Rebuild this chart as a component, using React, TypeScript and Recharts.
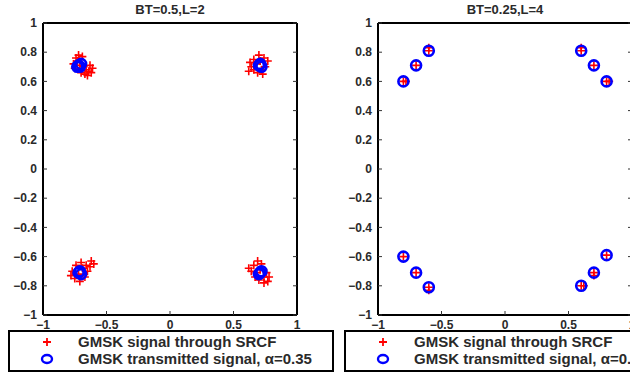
import { ScatterChart, Scatter, XAxis, YAxis } from 'recharts';

const FONT = '"Liberation Sans", Arial, sans-serif';

const xTicks = [-1, -0.5, 0, 0.5, 1];
const yTicks = [-1, -0.8, -0.6, -0.4, -0.2, 0, 0.2, 0.4, 0.6, 0.8, 1];

const titles = ['BT=0.5,L=2', 'BT=0.25,L=4'];
const legendLabels = ['GMSK signal through SRCF', 'GMSK transmitted signal, \u03b1=0.35'];

// left panel: BT=0.5, L=2
const srcfL2 = [
    // top left
    { x: -0.74, y: 0.76 }, { x: -0.72, y: 0.78 }, { x: -0.69, y: 0.77 }, { x: -0.76, y: 0.72 },
    { x: -0.75, y: 0.69 }, { x: -0.71, y: 0.71 }, { x: -0.68, y: 0.7 }, { x: -0.66, y: 0.68 },
    { x: -0.64, y: 0.67 }, { x: -0.62, y: 0.66 }, { x: -0.67, y: 0.65 }, { x: -0.65, y: 0.64 },
    { x: -0.7, y: 0.66 }, { x: -0.73, y: 0.74 }, { x: -0.61, y: 0.69 }, { x: -0.63, y: 0.71 },
    // top right
    { x: 0.66, y: 0.75 }, { x: 0.7, y: 0.78 }, { x: 0.74, y: 0.76 }, { x: 0.77, y: 0.74 },
    { x: 0.64, y: 0.7 }, { x: 0.66, y: 0.68 }, { x: 0.69, y: 0.66 }, { x: 0.72, y: 0.68 },
    { x: 0.75, y: 0.7 }, { x: 0.63, y: 0.73 }, { x: 0.68, y: 0.72 }, { x: 0.71, y: 0.74 },
    { x: 0.73, y: 0.65 }, { x: 0.62, y: 0.67 },
    // bottom left
    { x: -0.74, y: -0.66 }, { x: -0.77, y: -0.7 }, { x: -0.75, y: -0.75 }, { x: -0.71, y: -0.77 },
    { x: -0.67, y: -0.74 }, { x: -0.65, y: -0.7 }, { x: -0.66, y: -0.66 }, { x: -0.63, y: -0.67 },
    { x: -0.6, y: -0.65 }, { x: -0.62, y: -0.63 }, { x: -0.69, y: -0.68 }, { x: -0.72, y: -0.72 },
    { x: -0.78, y: -0.73 }, { x: -0.7, y: -0.64 },
    // bottom right
    { x: 0.66, y: -0.66 }, { x: 0.69, y: -0.63 }, { x: 0.72, y: -0.65 }, { x: 0.64, y: -0.7 },
    { x: 0.67, y: -0.74 }, { x: 0.7, y: -0.76 }, { x: 0.74, y: -0.74 }, { x: 0.76, y: -0.71 },
    { x: 0.74, y: -0.78 }, { x: 0.77, y: -0.77 }, { x: 0.71, y: -0.69 }, { x: 0.68, y: -0.71 },
    { x: 0.62, y: -0.68 }, { x: 0.78, y: -0.74 },
];

const txL2 = [
    { x: -0.72, y: 0.71 }, { x: -0.7, y: 0.72 }, { x: -0.71, y: 0.7 }, { x: -0.73, y: 0.7 },
    { x: 0.7, y: 0.71 }, { x: 0.71, y: 0.72 }, { x: 0.72, y: 0.7 },
    { x: -0.71, y: -0.7 }, { x: -0.7, y: -0.72 }, { x: -0.72, y: -0.71 },
    { x: 0.71, y: -0.71 }, { x: 0.72, y: -0.7 }, { x: 0.7, y: -0.72 },
];

// right panel: BT=0.25, L=4
const srcfL4 = [
    { x: -0.8, y: 0.6 }, { x: -0.7, y: 0.71 }, { x: -0.6, y: 0.81 },
    { x: 0.6, y: 0.81 }, { x: 0.7, y: 0.71 }, { x: 0.8, y: 0.6 },
    { x: -0.8, y: -0.6 }, { x: -0.7, y: -0.71 }, { x: -0.6, y: -0.81 },
    { x: 0.6, y: -0.8 }, { x: 0.7, y: -0.71 }, { x: 0.8, y: -0.59 },
    { x: -0.6, y: 0.83 }, { x: 0.6, y: 0.83 }, { x: -0.78, y: 0.6 }, { x: 0.82, y: 0.6 },
    { x: -0.6, y: -0.83 }, { x: 0.62, y: -0.8 }, { x: 0.7, y: -0.73 },
];

const txL4 = [
    { x: -0.8, y: 0.6 }, { x: -0.7, y: 0.71 }, { x: -0.6, y: 0.81 },
    { x: 0.6, y: 0.81 }, { x: 0.7, y: 0.71 }, { x: 0.8, y: 0.6 },
    { x: -0.8, y: -0.6 }, { x: -0.7, y: -0.71 }, { x: -0.6, y: -0.81 },
    { x: 0.6, y: -0.8 }, { x: 0.7, y: -0.71 }, { x: 0.8, y: -0.59 },
];

const fmt = (v: number) => (v < 0 ? '\u2212' + String(-v) : String(v));

// eslint-disable-next-line @typescript-eslint/no-explicit-any
const Plus = (p: any) => (
    <path
        d={`M${p.cx - 4},${p.cy}h8M${p.cx},${p.cy - 4}v8`}
        stroke="#ff0000"
        strokeWidth={1.6}
    />
);

// eslint-disable-next-line @typescript-eslint/no-explicit-any
const Ring = (p: any) => (
    <circle cx={p.cx} cy={p.cy} r={5} fill="none" stroke="#0000ff" strokeWidth={2.6} />
);

const tickStyle = { fontSize: 12, fill: '#2a2a2a', fontFamily: FONT, fontWeight: 'bold' };
const axisLine = { stroke: '#000', strokeWidth: 2 };
const tickLine = { stroke: '#333', strokeWidth: 1 };
const NoTick = () => <g />;

function Panel({
    left,
    title,
    red,
    blue,
}: {
    left: number;
    title: string;
    red: { x: number; y: number }[];
    blue: { x: number; y: number }[];
}) {
    const width = 310;
    const height = 376;
    // plot area: x 43..297, y 23..315
    const margin = { top: 22, right: 12, bottom: 41, left: 13 };
    return (
        <div style={{ position: 'absolute', left, top: 0, width, height }}>
            <div
                style={{
                    position: 'absolute',
                    left: 43,
                    width: 254,
                    top: 2,
                    textAlign: 'center',
                    fontFamily: FONT,
                    fontSize: 13,
                    fontWeight: 'bold',
                    color: '#2a2a2a',
                }}
            >
                {title}
            </div>
            <ScatterChart width={width} height={height} margin={margin}>
                <XAxis
                    xAxisId="b"
                    dataKey="x"
                    type="number"
                    domain={[-1, 1]}
                    ticks={xTicks}
                    tickFormatter={fmt}
                    height={20}
                    tickSize={-4}
                    tickMargin={9}
                    tick={tickStyle}
                    axisLine={axisLine}
                    tickLine={tickLine}
                    allowDataOverflow
                />
                <XAxis
                    xAxisId="t"
                    orientation="top"
                    type="number"
                    domain={[-1, 1]}
                    ticks={xTicks}
                    height={1}
                    tickSize={-4}
                    tick={NoTick}
                    axisLine={axisLine}
                    tickLine={tickLine}
                    allowDataOverflow
                />
                <YAxis
                    yAxisId="l"
                    dataKey="y"
                    type="number"
                    domain={[-1, 1]}
                    ticks={yTicks}
                    tickFormatter={fmt}
                    width={30}
                    tickSize={-4}
                    tickMargin={10}
                    tick={tickStyle}
                    axisLine={axisLine}
                    tickLine={tickLine}
                    allowDataOverflow
                />
                <YAxis
                    yAxisId="r"
                    orientation="right"
                    type="number"
                    domain={[-1, 1]}
                    ticks={yTicks}
                    width={1}
                    tickSize={-4}
                    tick={NoTick}
                    axisLine={axisLine}
                    tickLine={tickLine}
                    allowDataOverflow
                />
                <Scatter
                    xAxisId="b"
                    yAxisId="l"
                    data={red}
                    shape={Plus}
                    isAnimationActive={false}
                />
                <Scatter
                    xAxisId="b"
                    yAxisId="l"
                    data={blue}
                    shape={Ring}
                    isAnimationActive={false}
                />
            </ScatterChart>
        </div>
    );
}

function LegendBox({ left, width }: { left: number; width: number }) {
    const row = { display: 'flex', alignItems: 'center', height: 17 };
    return (
        <div
            style={{
                position: 'absolute',
                left,
                top: 330,
                width,
                height: 37,
                border: '2px solid #000',
                fontFamily: FONT,
                fontSize: 15,
                fontWeight: 'bold',
                color: '#2a2a2a',
                paddingTop: 1,
                whiteSpace: 'nowrap',
                overflow: 'hidden',
            }}
        >
            <div style={row}>
                <svg width={68} height={14}>
                    <path d="M37,3v8M33,7h8" stroke="#ff0000" strokeWidth={1.8} />
                </svg>
                <span>{legendLabels[0]}</span>
            </div>
            <div style={row}>
                <svg width={68} height={14}>
                    <ellipse cx={37} cy={7} rx={5} ry={4} fill="none" stroke="#0000ff" strokeWidth={2.4} />
                </svg>
                <span>{legendLabels[1]}</span>
            </div>
        </div>
    );
}

export default function App() {
    return (
        <div
            style={{
                position: 'absolute',
                left: 0,
                top: 0,
                width: 630,
                height: 376,
                overflow: 'hidden',
                background: '#fff',
            }}
        >
            <Panel left={0} title={titles[0]} red={srcfL2} blue={txL2} />
            <Panel left={335} title={titles[1]} red={srcfL4} blue={txL4} />
            <LegendBox left={8} width={322} />
            <LegendBox left={344} width={320} />
        </div>
    );
}
